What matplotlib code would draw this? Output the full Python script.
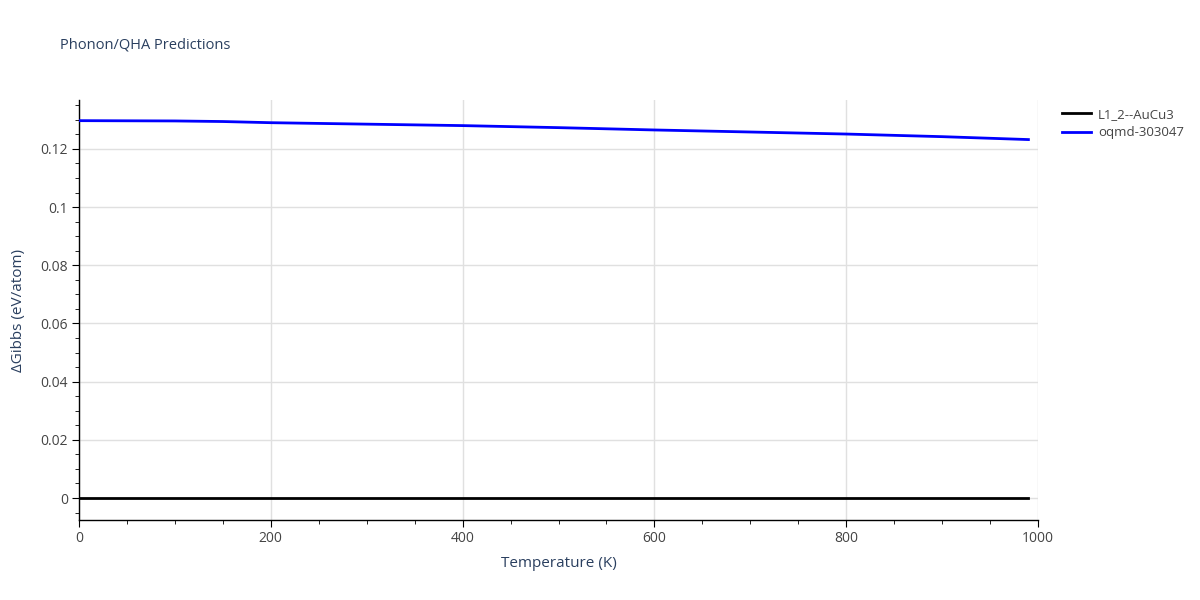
import matplotlib.pyplot as plt
from matplotlib.ticker import MultipleLocator, FuncFormatter

# data
temps_ref = [0, 990]
gibbs_ref = [0.0, 0.0]
temps_oqmd = [0, 100, 150, 200, 300, 400, 500, 600, 700, 800, 900, 990]
gibbs_oqmd = [0.1297, 0.1296, 0.1294, 0.1290, 0.1285, 0.1280, 0.1273,
              0.1265, 0.1258, 0.1251, 0.1242, 0.1232]

plt.rcParams['font.family'] = ['Open Sans', 'DejaVu Sans']
TXT = '#2a3f5f'
TICK = '#444444'

fig = plt.figure(figsize=(12, 6), dpi=100)
ax = fig.add_axes([79/1200, 1 - 520/600, (1038 - 79)/1200, 420/600])

ax.plot(temps_ref, gibbs_ref, color='black', lw=2, label='L1_2--AuCu3', zorder=3)
ax.plot(temps_oqmd, gibbs_oqmd, color='blue', lw=2, label='oqmd-303047', zorder=3)

ax.set_xlim(0, 1000)
ax.set_ylim(-0.00756, 0.1368)
ax.xaxis.set_major_locator(MultipleLocator(200))
ax.xaxis.set_minor_locator(MultipleLocator(50))
ax.yaxis.set_major_locator(MultipleLocator(0.02))
ax.yaxis.set_minor_locator(MultipleLocator(0.005))
ax.yaxis.set_major_formatter(FuncFormatter(lambda v, p: '0' if abs(v) < 1e-9 else f'{v:g}'))

ax.grid(True, which='major', color='#e0e0e0', lw=1, zorder=0)
for s in ['top', 'right']:
    ax.spines[s].set_visible(False)
for s in ['left', 'bottom']:
    ax.spines[s].set_color('black')
    ax.spines[s].set_linewidth(1)
ax.tick_params(which='major', direction='out', length=5, color='black',
               labelcolor=TICK, labelsize=10, pad=3)
ax.tick_params(which='minor', direction='out', length=3, color='black')

ax.set_xlabel('Temperature (K)', color=TXT, fontsize=11, labelpad=7)
ax.set_ylabel('ΔGibbs (eV/atom)', color=TXT, fontsize=11, labelpad=10)

fig.text(60/1200, 1 - 45/600, 'Phonon/QHA Predictions', color=TXT, fontsize=10.5,
         va='center', ha='left')

ax.legend(loc='upper left', bbox_to_anchor=(1.017, 1.0), frameon=False,
          fontsize=9.5, labelcolor=TICK, handlelength=2.2, handletextpad=0.5,
          borderaxespad=0.2, labelspacing=0.4)

fig.savefig('out.png', dpi=100, facecolor='white')
